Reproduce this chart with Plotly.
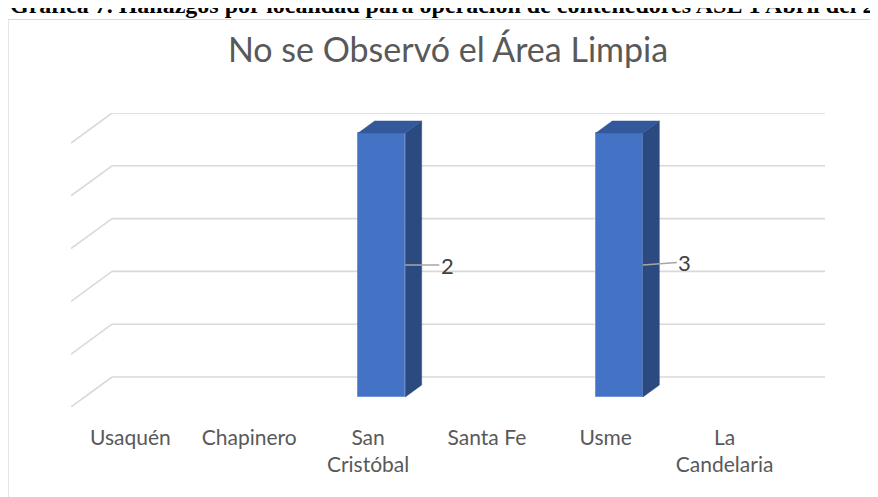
import plotly.graph_objects as go

# data
categories = ["Usaquén", "Chapinero", "San Cristóbal", "Santa Fe", "Usme", "La Candelaria"]
tick_text = ["Usaquén", "Chapinero", "San<br>Cristóbal", "Santa Fe", "Usme", "La<br>Candelaria"]
values = [0, 0, 2, 0, 3, 0]
grid_vals = [0, 0.4, 0.8, 1.2, 1.6, 2.0]
y_max = 2.0

header = "Gráfica 7. Hallazgos por localidad para operación de contenedores ASE 1 Abril del 20"
title = "No se Observó el Área Limpia"

# fake 3D perspective (front offset relative to back wall, data units)
DEPTH_X = -0.345
DEPTH_Y = -0.1136 * y_max
BAR_FRONT = 0.667   # depth of bar front face (fraction toward the front)
BAR_BACK = 0.267
BAR_W = 0.396

FRONT_COLOR = "#4472C4"
SIDE_COLOR = "#2B4A80"
TOP_COLOR = "#33589B"
GRID_COLOR = "#D9D9D9"
TEXT_COLOR = "#595959"

fig = go.Figure()

# back wall gridlines and floor diagonals
shapes = []
for g in grid_vals:
    shapes.append(dict(type="line", xref="x", yref="y", x0=-0.5, x1=len(categories) - 0.5,
                       y0=g, y1=g, line=dict(color=GRID_COLOR, width=1.6), layer="below"))
    shapes.append(dict(type="line", xref="x", yref="y", x0=-0.5, x1=-0.5 + DEPTH_X,
                       y0=g, y1=g + DEPTH_Y, line=dict(color=GRID_COLOR, width=1.6), layer="below"))

# chart frame
shapes.append(dict(type="rect", xref="paper", yref="paper", x0=-0.0835, x1=1.1, y0=-0.5, y1=1.318,
                   line=dict(color="#D9D9D9", width=1.2), fillcolor="rgba(0,0,0,0)", layer="below"))

sdx = (BAR_FRONT - BAR_BACK) * -DEPTH_X
sdy = (BAR_FRONT - BAR_BACK) * -DEPTH_Y
front_x, front_h, front_base = [], [], []
annotations = []
for i, v in enumerate(values):
    if v <= 0:
        continue
    h = min(v, y_max)
    cx = i + DEPTH_X * BAR_FRONT
    yb = DEPTH_Y * BAR_FRONT
    yt = yb + h
    xl, xr = cx - BAR_W / 2, cx + BAR_W / 2
    front_x.append(cx)
    front_h.append(h)
    front_base.append(yb)
    # side face
    fig.add_trace(go.Scatter(
        x=[xr, xr + sdx, xr + sdx, xr, xr], y=[yb, yb + sdy, yt + sdy, yt, yb],
        fill="toself", fillcolor=SIDE_COLOR, mode="lines",
        line=dict(color=SIDE_COLOR, width=0.5), hoverinfo="skip", showlegend=False))
    # top face
    fig.add_trace(go.Scatter(
        x=[xl, xr, xr + sdx, xl + sdx, xl], y=[yt, yt, yt + sdy, yt + sdy, yt],
        fill="toself", fillcolor=TOP_COLOR, mode="lines",
        line=dict(color=TOP_COLOR, width=0.5), hoverinfo="skip", showlegend=False))
    annotations.append(dict(
        x=xr, y=yb + h / 2, xref="x", yref="y", text=str(v),
        showarrow=True, arrowhead=0, arrowwidth=1.5, arrowcolor="#A6A6A6",
        ax=42, ay=0 if i == 2 else -3, standoff=0,
        font=dict(family="Lato", size=22, color="#404040")))

fig.add_trace(go.Bar(
    x=front_x, y=front_h, base=front_base, width=BAR_W,
    marker=dict(color=FRONT_COLOR, line=dict(color="#6F93D6", width=1)),
    hoverinfo="skip", showlegend=False))

# header (only its lower part shows, as in the cropped original)
annotations.append(dict(
    x=-0.0836, y=1.3163, xref="paper", yref="paper", xanchor="left", yanchor="bottom",
    text="<b>" + header + "</b>", showarrow=False,
    font=dict(family="Liberation Serif", size=24, color="#000000")))

fig.update_layout(
    width=878, height=497,
    margin=dict(l=63, r=61, t=105, b=98),
    paper_bgcolor="white", plot_bgcolor="white",
    title=dict(text=title, x=0.5, xref="paper", xanchor="center",
               y=1 - 42 / 497, yref="container", yanchor="middle",
               font=dict(family="Lato", size=34, color=TEXT_COLOR)),
    xaxis=dict(range=[-0.5 + DEPTH_X, len(categories) - 0.5],
               tickvals=[i + DEPTH_X for i in range(len(categories))], ticktext=tick_text,
               showgrid=False, zeroline=False, showline=False, ticks="",
               ticklabelstandoff=16,
               tickfont=dict(family="Lato", size=21, color=TEXT_COLOR)),
    yaxis=dict(range=[DEPTH_Y, y_max], showgrid=False, zeroline=False,
               showline=False, showticklabels=False, ticks=""),
    shapes=shapes,
    annotations=annotations,
    showlegend=False,
    bargap=0,
)

fig.write_html("out.html")
